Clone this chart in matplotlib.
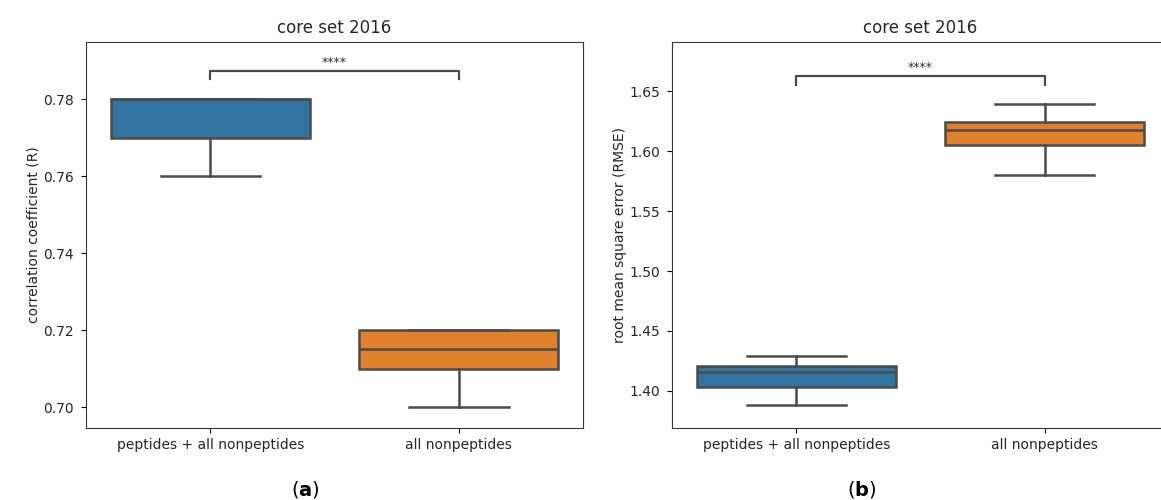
import matplotlib.pyplot as plt

groups = ["peptides + all nonpeptides", "all nonpeptides"]
colors = ["#3274a1", "#e1812c"]

# (whislo, q1, median, q3, whishi) per group
r_stats = [(0.760, 0.770, 0.780, 0.780, 0.780),
           (0.700, 0.710, 0.715, 0.720, 0.720)]
rmse_stats = [(1.388, 1.4035, 1.416, 1.421, 1.429),
              (1.5805, 1.6055, 1.6175, 1.624, 1.6395)]

r_ticks = [0.70, 0.72, 0.74, 0.76, 0.78]
rmse_ticks = [1.40, 1.45, 1.50, 1.55, 1.60, 1.65]

line_c = "#4a4a4a"


def draw_box(ax, stats, ticks, ylim, bracket, ylabel):
    bxp = []
    for s in stats:
        bxp.append(dict(whislo=s[0], q1=s[1], med=s[2], q3=s[3], whishi=s[4], fliers=[]))
    parts = ax.bxp(bxp, positions=[0, 1], widths=0.8, patch_artist=True,
                   showfliers=False,
                   boxprops=dict(edgecolor=line_c, linewidth=1.8),
                   whiskerprops=dict(color=line_c, linewidth=1.8),
                   capprops=dict(color=line_c, linewidth=1.8),
                   medianprops=dict(color=line_c, linewidth=1.8))
    for patch, c in zip(parts["boxes"], colors):
        patch.set_facecolor(c)
    ax.set_xlim(-0.5, 1.5)
    ax.set_ylim(*ylim)
    ax.set_yticks(ticks)
    ax.set_yticklabels([f"{t:.2f}" for t in ticks])
    ax.set_xticks([0, 1])
    ax.set_xticklabels(groups, fontsize=10, color="#262626")
    ax.tick_params(axis="y", labelsize=10, labelcolor="#262626", pad=5)
    ax.set_title("core set 2016", fontsize=12, color="#262626")
    ax.set_ylabel(ylabel, fontsize=10, color="#262626", labelpad=2)
    y0, y1, yt = bracket
    ax.plot([0, 0, 1, 1], [y0, y1, y1, y0], color=line_c, linewidth=1.6)
    ax.text(0.5, yt, "****", ha="center", va="bottom", fontsize=9, color="#333333")
    for sp in ax.spines.values():
        sp.set_color("#333333")


fig = plt.figure(figsize=(11.61, 5), dpi=100)
ax1 = fig.add_axes([0.0741, 0.144, 0.4281, 0.773])
ax2 = fig.add_axes([0.5788, 0.144, 0.4281, 0.773])

draw_box(ax1, r_stats, r_ticks, (0.6946, 0.795), (0.7852, 0.7873, 0.7878),
         "correlation coefficient (R)")
draw_box(ax2, rmse_stats, rmse_ticks, (1.369, 1.6915), (1.6556, 1.663, 1.6645),
         "root mean square error (RMSE)")
# right frame of panel (b) falls outside the image in the original
ax2.spines["right"].set_visible(False)

fig.text(0.263, 0.022, r"($\mathbf{a}$)", ha="center", va="center", fontsize=14)
fig.text(0.742, 0.022, r"($\mathbf{b}$)", ha="center", va="center", fontsize=14)

fig.savefig("out.png", dpi=100)
